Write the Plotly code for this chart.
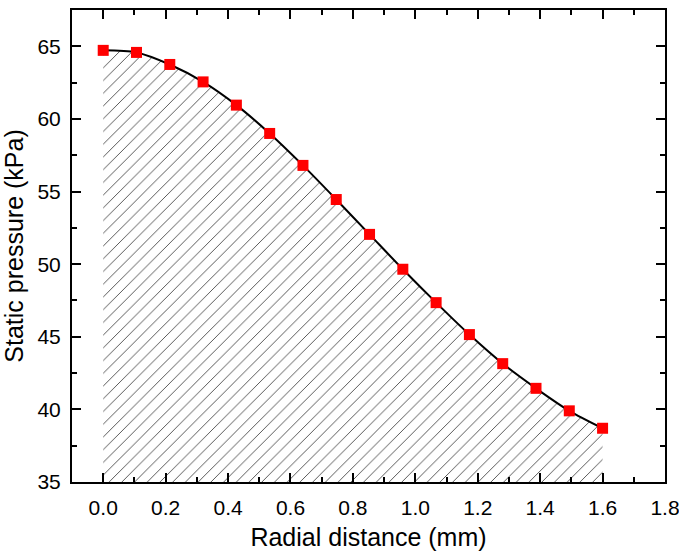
import plotly.graph_objects as go

x_mm = [i * 1.6 / 15 for i in range(16)]
pressure_kpa = [64.72, 64.58, 63.75, 62.55, 60.95, 59.0, 56.8, 54.45,
                52.05, 49.65, 47.35, 45.15, 43.15, 41.45, 39.9, 38.7]
base_x = [0.0, 1.6]
base_y = [35, 35]

x_ticks = [0.0, 0.2, 0.4, 0.6, 0.8, 1.0, 1.2, 1.4, 1.6, 1.8]
x_ticktext = ["0.0", "0.2", "0.4", "0.6", "0.8", "1.0", "1.2", "1.4", "1.6", "1.8"]
y_ticks = [35, 40, 45, 50, 55, 60, 65]

FONT = "Liberation Sans, Arial"

fig = go.Figure()
fig.add_trace(go.Scatter(x=base_x, y=base_y, mode="lines",
                         line=dict(width=0, color="rgba(0,0,0,0)"),
                         showlegend=False, hoverinfo="skip"))
fig.add_trace(go.Scatter(
    x=x_mm, y=pressure_kpa, mode="lines",
    line=dict(color="black", width=2, shape="spline", smoothing=0.8),
    fill="tonexty", fillcolor="white",
    fillpattern=dict(shape="/", fgcolor="#333333", bgcolor="white",
                     size=9, solidity=0.09, fillmode="replace"),
    showlegend=False))
fig.add_trace(go.Scatter(
    x=x_mm, y=pressure_kpa, mode="markers",
    marker=dict(symbol="square", size=11, color="#ff0000"),
    showlegend=False))

axis_common = dict(
    showline=True, linecolor="black", linewidth=2, mirror="ticks",
    ticks="inside", ticklen=9, tickwidth=2, tickcolor="black",
    showgrid=False, zeroline=False, automargin=False,
    ticklabeloverflow="allow",
    tickfont=dict(family=FONT, size=21, color="black"),
)

fig.update_xaxes(
    range=[-0.1, 1.8], tickvals=x_ticks, ticktext=x_ticktext,
    minor=dict(dtick=0.1, tick0=0, ticks="inside", ticklen=5, tickwidth=2, tickcolor="black"),
    title=dict(text="Radial distance (mm)", standoff=12,
               font=dict(family=FONT, size=25, color="black")),
    ticklabelstandoff=6,
    **axis_common)
fig.update_yaxes(
    range=[35, 67.5], tickvals=y_ticks,
    minor=dict(dtick=2.5, tick0=35, ticks="inside", ticklen=5, tickwidth=2, tickcolor="black"),
    title=dict(text="Static pressure (kPa)", standoff=8,
               font=dict(family=FONT, size=25, color="black")),
    ticklabelstandoff=5,
    **axis_common)

fig.update_layout(
    width=679, height=551,
    margin=dict(l=72, r=14, t=10, b=69),
    plot_bgcolor="white", paper_bgcolor="white",
)

fig.write_html("out.html", config={"displayModeBar": False},
               post_script="document.body.style.margin='0px';document.body.style.overflow='hidden';")
